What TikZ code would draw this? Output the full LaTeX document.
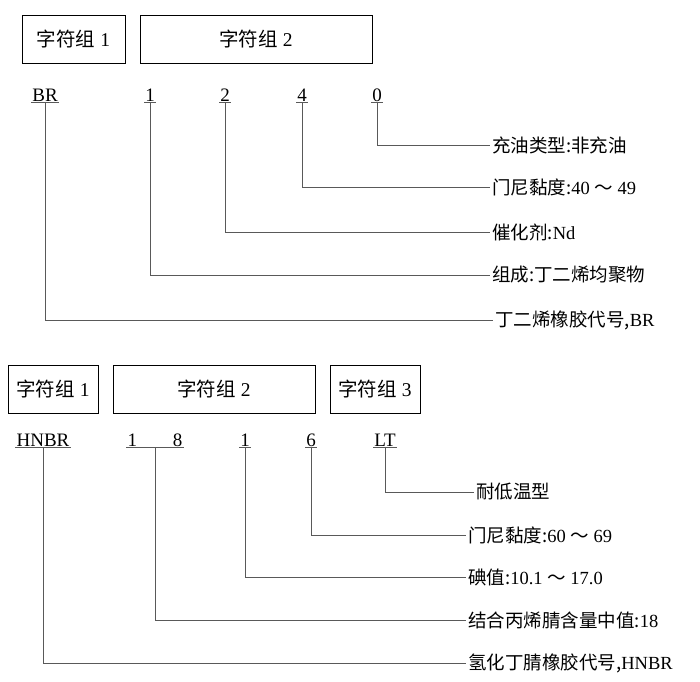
\documentclass[tikz,border=0pt]{standalone}
\usepackage{fontspec}
\setmainfont{Liberation Serif}
\newfontfamily\cjk{Noto Sans CJK SC}
\begin{document}
\begin{tikzpicture}[x=1pt,y=-1pt,
  box/.style={draw,line width=0.7pt,inner sep=0pt,font=\fontsize{19.5}{21}\selectfont},
  code/.style={font=\fontsize{19}{21}\selectfont,inner sep=1pt,anchor=base},
  lab/.style={font=\fontsize{18.5}{20}\selectfont,anchor=west,inner sep=2pt},
  ln/.style={line width=0.6pt,gray!70!black}]
\useasboundingbox (0,0) rectangle (700,681);
% top
\node[box,minimum width=103,minimum height=48] (a1) at (73.5,39) {{\cjk 字符组} 1};
\node[box,minimum width=232,minimum height=48] (a2) at (256,39) {{\cjk 字符组} 2};
\node[code] (tBR) at (45,101) {BR};
\node[code] (t1) at (150,101) {1};
\node[code] (t2) at (225,101) {2};
\node[code] (t4) at (302,101) {4};
\node[code] (t0) at (377,101) {0};
\foreach \n in {tBR,t1,t2,t4,t0}{\draw[ln] (\n.south west)--(\n.south east);}
\node[lab] (l0) at (490,145) {{\cjk 充油类型:非充油}};
\node[lab] (l4) at (490,187) {{\cjk 门尼黏度:}40 {\cjk ～} 49};
\node[lab] (l2) at (490,232) {{\cjk 催化剂:}Nd};
\node[lab] (l1) at (490,275) {{\cjk 组成:丁二烯均聚物}};
\node[lab] (lBR) at (493,320) {{\cjk 丁二烯橡胶代号,}BR};
\draw[ln] (t0.south) |- (l0.west);
\draw[ln] (t4.south) |- (l4.west);
\draw[ln] (t2.south) |- (l2.west);
\draw[ln] (t1.south) |- (l1.west);
\draw[ln] (tBR.south) |- (lBR.west);
% bottom
\node[box,minimum width=90,minimum height=48] (b1) at (53,389) {{\cjk 字符组} 1};
\node[box,minimum width=202,minimum height=48] (b2) at (214,389) {{\cjk 字符组} 2};
\node[box,minimum width=90,minimum height=48] (b3) at (375,389) {{\cjk 字符组} 3};
\node[code] (hN) at (43,446) {HNBR};
\node[code,minimum width=56] (h18) at (155,446) {1\hspace{36pt}8};
\node[code] (h1) at (245,446) {1};
\node[code] (h6) at (311,446) {6};
\node[code] (hLT) at (385,446) {LT};
\foreach \n in {hN,h18,h1,h6,hLT}{\draw[ln] (\n.south west)--(\n.south east);}
\node[lab] (mLT) at (474,492) {{\cjk 耐低温型}};
\node[lab] (m6) at (466,535) {{\cjk 门尼黏度:}60 {\cjk ～} 69};
\node[lab] (m1) at (466,577) {{\cjk 碘值:}10.1 {\cjk ～} 17.0};
\node[lab] (m18) at (466,620) {{\cjk 结合丙烯腈含量中值:}18};
\node[lab] (mN) at (466,663) {{\cjk 氢化丁腈橡胶代号,}HNBR};
\draw[ln] (hLT.south) |- (mLT.west);
\draw[ln] (h6.south) |- (m6.west);
\draw[ln] (h1.south) |- (m1.west);
\draw[ln] (h18.south) |- (m18.west);
\draw[ln] (hN.south) |- (mN.west);
\end{tikzpicture}
\end{document}
